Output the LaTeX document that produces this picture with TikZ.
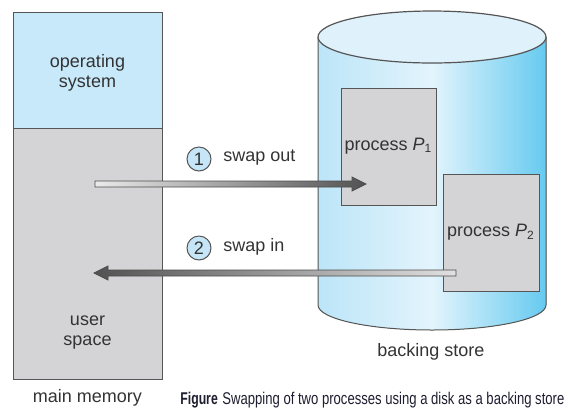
\documentclass[tikz,border=0pt]{standalone}
\usepackage{fontspec}
\setmainfont{Liberation Sans}
\newfontfamily\capfont[FakeStretch=0.77]{Liberation Sans}
\newfontfamily\capboldfont[FakeStretch=0.72]{Liberation Sans}
\usetikzlibrary{calc}

\definecolor{osblue}{HTML}{C8E9FA}
\definecolor{usergray}{HTML}{D4D4D6}
\definecolor{edgegray}{HTML}{555555}
\definecolor{txtgray}{HTML}{333333}
\definecolor{cylL}{HTML}{BCE5F8}
\definecolor{cylM}{HTML}{E3F4FC}
\definecolor{cylR}{HTML}{66CAF0}
\definecolor{cyltop}{HTML}{DFF2FC}
\definecolor{circfill}{HTML}{C6E6F8}
\definecolor{capcol}{HTML}{1E1E30}

\tikzset{
  lbl/.style={text=txtgray, font=\fontsize{9}{10}\selectfont, inner sep=0pt},
  membox/.style={draw=edgegray, line width=0.5pt, lbl, align=center},
  procbox/.style={draw=edgegray, line width=0.5pt, fill=usergray, lbl},
  stepnum/.style={circle, draw=edgegray, line width=0.5pt, fill=circfill,
                  minimum size=12pt, inner sep=0pt, lbl},
  arrowbody/.style={draw=edgegray!90!black, line width=0.4pt, line join=miter},
}

\begin{document}
\begin{tikzpicture}[x=0.5pt, y=-0.5pt]
  \useasboundingbox (0,0) rectangle (568,409);

  % ---- backing store (cylinder) ----
  \fill[left color=cylL, right color=cylR, middle color=cylM]
    (318,37) -- (318,305) arc[start angle=180, end angle=0, x radius=114, y radius=25]
    -- (546,37) -- cycle;
  \draw[edgegray, line width=0.5pt]
    (318,37) -- (318,305) arc[start angle=180, end angle=0, x radius=114, y radius=25]
    -- (546,37);
  \draw[edgegray, line width=0.6pt, fill=cyltop] (432,37) ellipse[x radius=114, y radius=26];
  \node[lbl, anchor=base] (bs) at (431,356) {backing store};

  % ---- main memory ----
  \node[membox, fill=osblue, minimum width=74.5pt, minimum height=58pt]
    (os) at (87.5,70) {};
  \node[lbl, align=center] (ostext) at (87.5,73) {operating\\system};
  \node[membox, fill=usergray, minimum width=74.5pt, minimum height=125.5pt]
    (user) at (87.5,253.5) {};
  \node[lbl, align=center] (usertext) at (87.5,333) {user\\space};
  \node[lbl, anchor=base] (mm) at (87.5,402) {main memory};

  % ---- processes on the backing store ----
  \node[procbox, minimum width=47.5pt, minimum height=58.5pt]
    (p1) at (388.5,146.5) {process {\itshape P}\textsubscript{1}};
  \node[procbox, minimum width=48pt, minimum height=58.5pt]
    (p2) at (491,232.5) {process {\itshape P}\textsubscript{2}};

  % ---- step labels ----
  \node[stepnum] (n1) at (199,159) {1};
  \node[lbl, anchor=west] (t1) at (223,158) {swap out};
  \node[stepnum] (n2) at (199,248) {2};
  \node[lbl, anchor=west] (t2) at (223,247) {swap in};

  % ---- swap out arrow ----
  \coordinate (outS) at (95,184);
  \coordinate (outE) at (366,184);
  \path[arrowbody, left color=white!92!black, middle color=black!50, right color=black!68]
    ($(outS)+(0,-3)$) -- ($(outE)+(-14,-3)$) -- ($(outE)+(-14,-7)$) -- (outE)
    -- ($(outE)+(-14,7)$) -- ($(outE)+(-14,3)$) -- ($(outS)+(0,3)$) -- cycle;

  % ---- swap in arrow ----
  \coordinate (inS) at (456,273);
  \coordinate (inE) at (94,273);
  \path[arrowbody, left color=black!68, middle color=black!36, right color=white!88!black]
    ($(inS)+(0,-3)$) -- ($(inE)+(14,-3)$) -- ($(inE)+(14,-7)$) -- (inE)
    -- ($(inE)+(14,7)$) -- ($(inE)+(14,3)$) -- ($(inS)+(0,3)$) -- cycle;

  % ---- caption ----
  \node[anchor=base west, inner sep=0pt, text=capcol, font=\capboldfont\bfseries\fontsize{8.5}{10}\selectfont]
    (figlbl) at (180,404) {Figure};
  \node[anchor=base west, inner sep=0pt, text=capcol, font=\capfont\fontsize{8.5}{10}\selectfont]
    (figtxt) at (222,404) {Swapping of two processes using a disk as a backing store};
\end{tikzpicture}
\end{document}
